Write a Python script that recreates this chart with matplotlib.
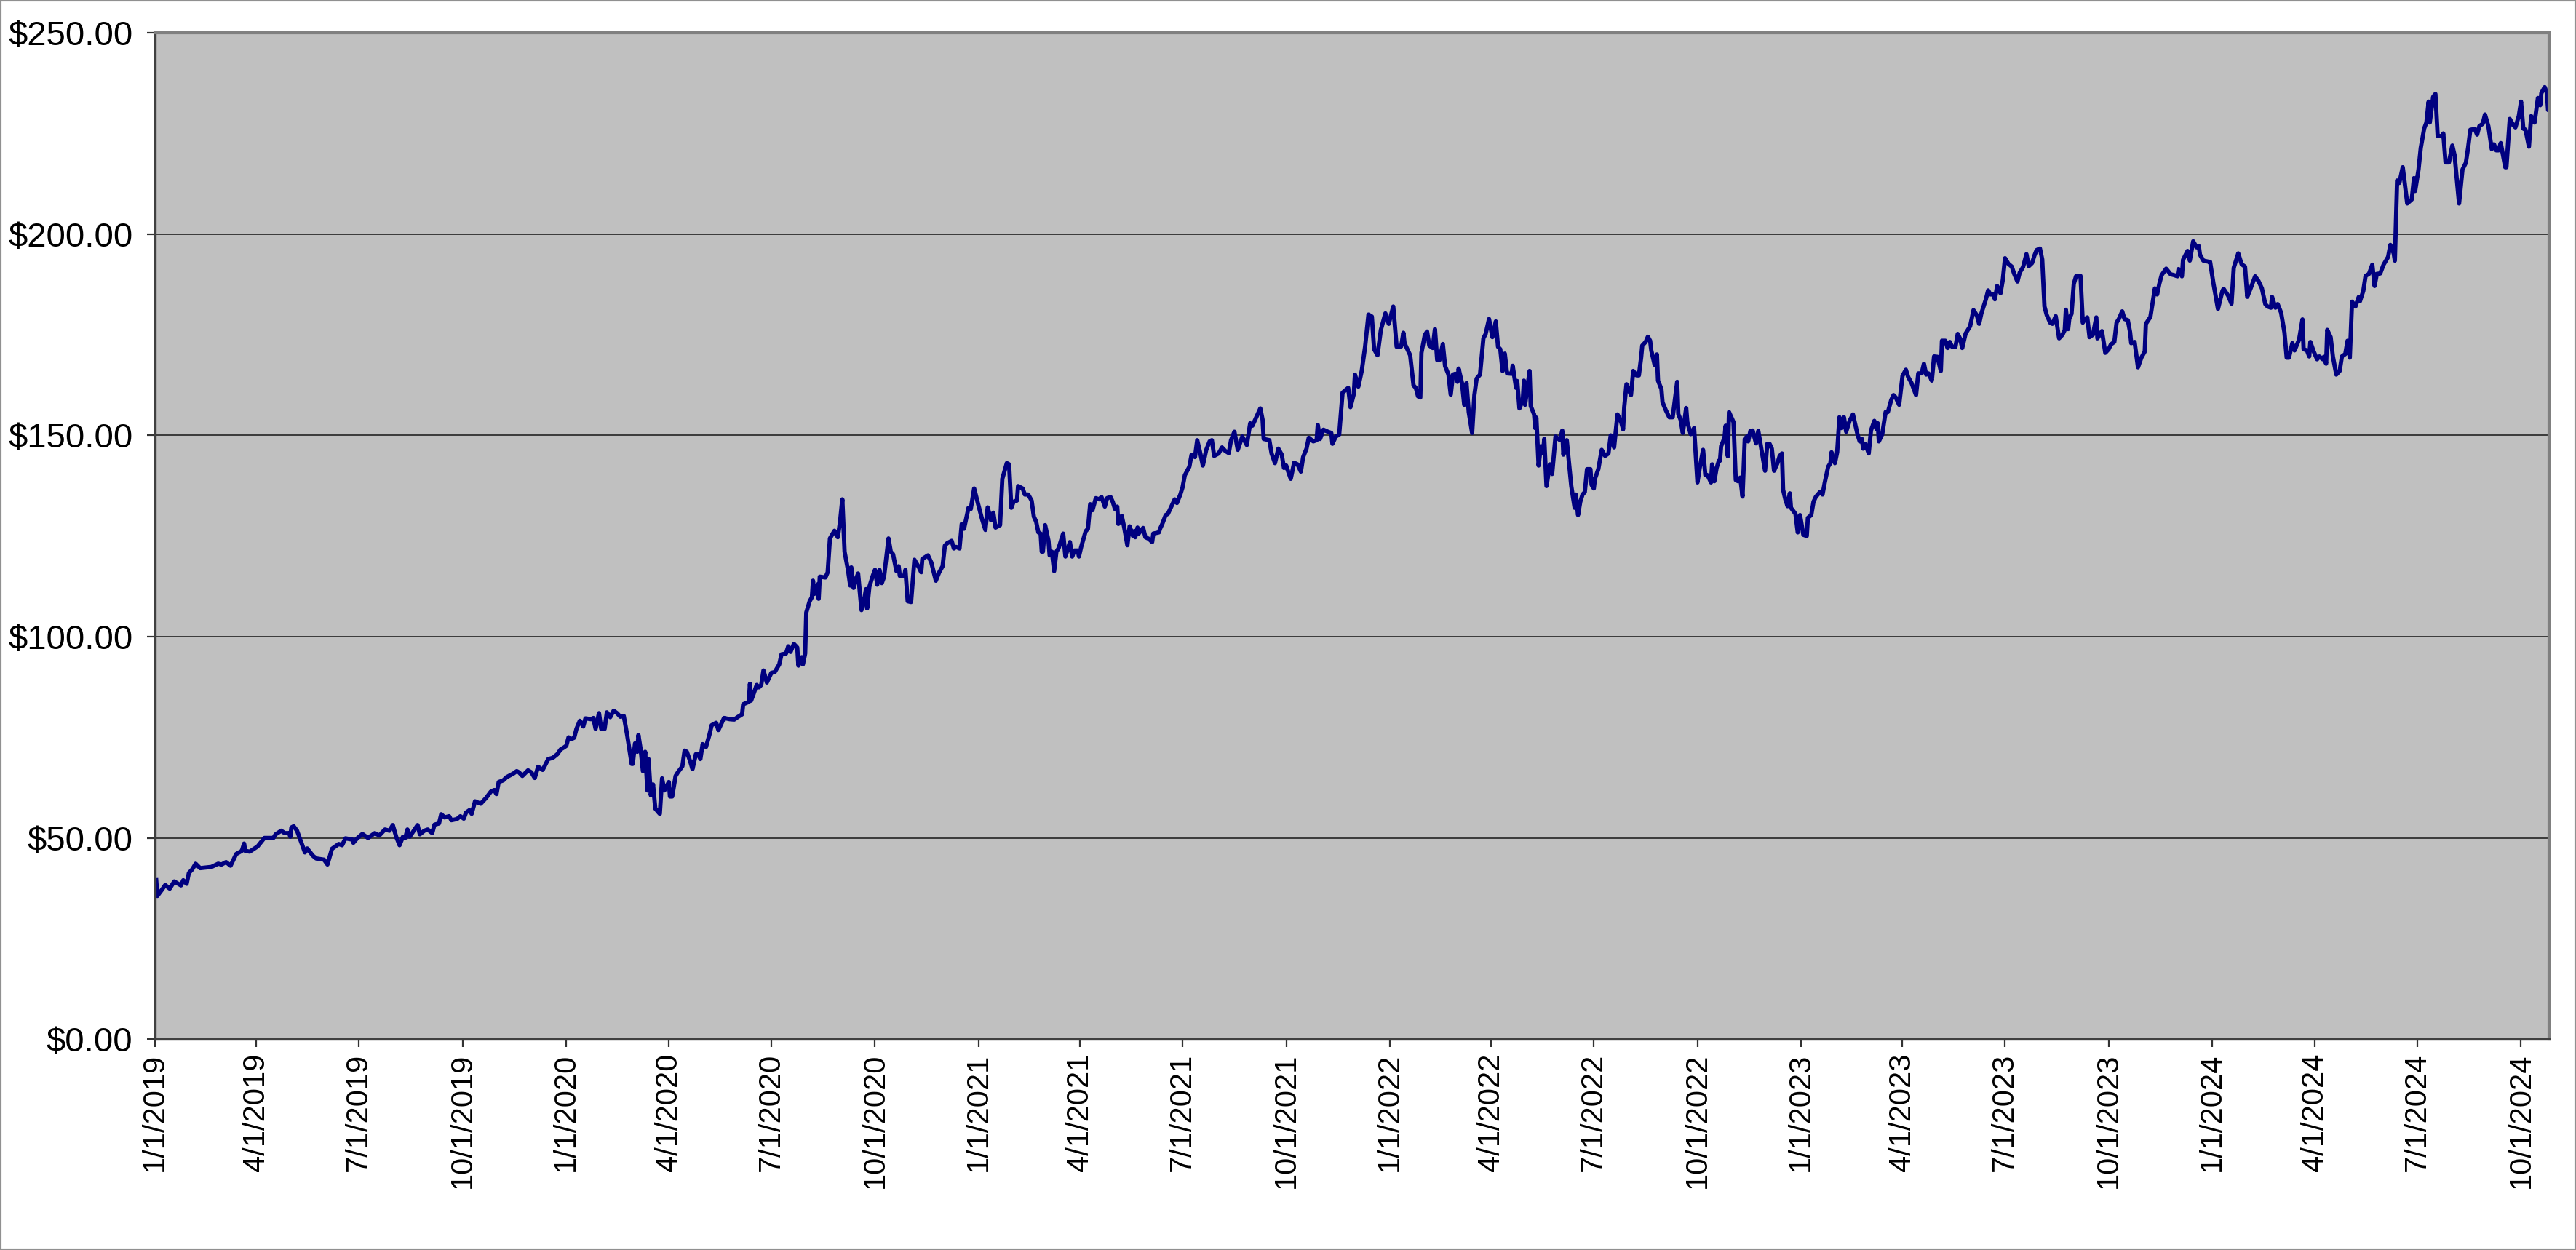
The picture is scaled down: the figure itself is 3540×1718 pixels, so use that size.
import matplotlib
matplotlib.use("Agg")
import matplotlib.pyplot as plt
import pandas as pd
from matplotlib.patches import Rectangle

# days since 1/1/2019 and closing price
days = [
    1, 2, 6, 9, 13, 17, 23, 25, 28, 30, 33, 36, 40, 50, 56, 59, 63, 67, 72, 77,
    79, 80, 84, 91, 97, 105, 107, 112, 115, 119, 120, 121, 123, 126, 133, 135, 140, 143, 150, 153,
    157, 163, 166, 169, 175, 176, 179, 184,
    189, 195, 199, 204, 208, 211, 214, 217, 220, 222, 224, 226, 233, 235, 239, 242, 246, 248, 252, 254,
    257, 261, 263, 268, 271, 274, 276, 279, 281, 284, 289, 294, 298, 301, 303, 305, 309, 312, 318, 321,
    323, 326, 331, 334, 337, 340, 344, 349, 353,
    357, 360, 363, 365, 367, 369, 372, 374, 377, 380, 382, 387, 389, 391, 394, 396, 399, 401, 404, 407,
    410, 413, 416, 419, 421, 423, 424, 426, 428, 429, 431, 433, 435, 437, 438, 440, 442, 444, 447, 448,
    450, 452, 456, 457, 459, 462, 464, 468, 470, 472, 475, 477, 480, 482, 484, 486, 489, 492, 494, 498,
    500, 505, 510, 514, 517, 521, 522, 527, 528, 529, 531, 534, 536,
    538, 540, 543, 547, 550, 554, 556, 560, 562, 564, 567, 570, 571, 574, 575, 577, 578, 581, 583, 584,
    585, 588, 589, 590, 595, 597, 599, 603, 606, 608, 610, 612, 615, 617, 618, 620, 622, 624, 627, 629,
    631, 632, 634, 637, 639, 641, 643, 645, 647, 651, 653, 655, 658, 660, 661, 665, 666, 668, 671, 674,
    678, 680, 681, 686, 689, 693, 696, 699, 701, 703, 707, 709, 711, 714, 716,
    718, 722, 724, 727, 730, 734, 737, 739, 742, 744, 746, 750, 752, 756, 758, 760, 762, 765, 766, 770,
    772, 775, 778, 780, 782, 784, 786, 787, 788, 790, 793, 794, 796, 798, 800, 802, 806, 808, 812, 814,
    816, 819, 820, 822, 826, 828, 830, 832, 835, 838, 840, 843, 845, 848, 850, 852, 854, 855, 858, 860,
    863, 865, 868, 869, 870, 872, 873, 877, 879, 882, 885, 886, 891, 892, 894, 897,
    899, 902, 905, 907, 910, 912, 914, 918, 920, 923, 925, 928, 930, 933, 936, 938, 940, 944, 947, 950,
    953, 955, 958, 961, 965, 969, 972, 974, 981, 983, 984, 989, 991, 994, 997, 1000, 1002, 1004, 1005, 1008,
    1011, 1014, 1017, 1019, 1022, 1024, 1028, 1031, 1032, 1034, 1037, 1041, 1044, 1045, 1048, 1051, 1054, 1059, 1061, 1064,
    1065, 1068, 1071, 1074, 1077,
    1080, 1082, 1085, 1088, 1092, 1095, 1099, 1102, 1106, 1108, 1109, 1111, 1114, 1117, 1119, 1121, 1123, 1124, 1127, 1129,
    1131, 1134, 1136, 1138, 1140, 1143, 1145, 1148, 1150, 1152, 1154, 1156, 1157, 1160, 1162, 1164, 1166, 1169, 1171, 1173,
    1176, 1179, 1181, 1184, 1187, 1190, 1192, 1194, 1196, 1198, 1200, 1204, 1205, 1208, 1209, 1211, 1214, 1215, 1216, 1220,
    1221, 1224, 1225, 1226, 1228, 1230, 1232, 1233, 1235, 1238, 1240, 1243, 1247, 1249, 1250, 1253, 1257, 1260,
    1261, 1263, 1265, 1267, 1269, 1271, 1274, 1275, 1277, 1278, 1281, 1284, 1287, 1290, 1292, 1295, 1298, 1301, 1303, 1304,
    1306, 1310, 1312, 1315, 1317, 1319, 1320, 1323, 1325, 1327, 1328, 1331, 1333, 1334, 1337, 1338, 1341, 1344, 1347, 1351,
    1352, 1354, 1356, 1359, 1360, 1363, 1366, 1369, 1371, 1374, 1376, 1378, 1381, 1382, 1384, 1386, 1388, 1389, 1390, 1393,
    1394, 1396, 1397, 1401, 1403, 1405, 1407, 1409, 1411, 1413, 1414, 1416, 1418, 1421, 1423, 1426, 1429, 1431, 1433, 1435,
    1437, 1440,
    1442, 1444, 1445, 1447, 1449, 1451, 1452, 1456, 1458, 1460, 1463, 1466, 1467, 1470, 1472, 1474, 1478, 1480, 1482, 1485,
    1487, 1488, 1491, 1493, 1495, 1497, 1499, 1501, 1504, 1507, 1511, 1513, 1515, 1516, 1518, 1521, 1523, 1526, 1528, 1529,
    1530, 1533, 1536, 1538, 1541, 1543, 1545, 1548, 1551, 1554, 1556, 1559, 1563, 1565, 1568, 1570, 1572, 1574, 1577, 1579,
    1582, 1585, 1586, 1589, 1591, 1593, 1595, 1598, 1600, 1602, 1604, 1607, 1611, 1614, 1617, 1619, 1621,
    1625, 1627, 1629, 1632, 1633, 1635, 1638, 1640, 1642, 1645, 1648, 1650, 1653, 1655, 1658, 1661, 1663, 1666, 1668, 1670,
    1673, 1675, 1677, 1679, 1682, 1684, 1687, 1688, 1690, 1693, 1695, 1696, 1698, 1699, 1701, 1703, 1705, 1709, 1711, 1713,
    1715, 1717, 1720, 1723, 1724, 1728, 1731, 1734, 1736, 1739, 1741, 1743, 1746, 1748, 1751, 1753, 1754, 1757, 1760, 1763,
    1766, 1767, 1771, 1773, 1775, 1777, 1779, 1781, 1785, 1789, 1792, 1795, 1796, 1799, 1800,
    1804, 1806, 1809, 1812, 1814, 1815, 1818, 1823, 1824, 1827, 1831, 1835, 1836, 1840, 1843, 1845, 1849, 1852, 1855, 1857,
    1860, 1864, 1867, 1870, 1873, 1875, 1878, 1879, 1882, 1884, 1887, 1890, 1892, 1894, 1897, 1899, 1903, 1906, 1907, 1910,
    1912, 1913, 1916, 1919, 1921, 1924, 1925, 1927, 1928, 1931, 1933, 1936, 1939, 1941, 1944, 1946, 1948, 1950, 1953, 1956,
    1957, 1960, 1962, 1965, 1968, 1970, 1972, 1975, 1978, 1982,
    1984, 1987, 1988, 1990, 1992, 1995, 1999, 2003, 2005, 2006, 2009, 2011, 2014, 2016, 2018, 2019, 2022, 2024, 2026, 2030,
    2031, 2033, 2036, 2039, 2041, 2045, 2048, 2051, 2053, 2055, 2059, 2061, 2063, 2066, 2068, 2071, 2074, 2076, 2078, 2080,
    2082, 2086, 2087, 2090, 2093, 2095, 2098, 2100, 2102, 2104, 2107, 2109, 2112, 2115, 2117, 2118, 2121, 2123, 2124, 2125,
]
prices = [
    39.5, 35.6, 37.1, 38.3, 37.4, 39.2, 38.2, 39.5, 38.6, 41.3, 42.2, 43.6, 42.5, 42.8, 43.6, 43.4, 44.0, 43.1, 46.0, 46.8,
    48.6, 46.8, 46.6, 47.9, 50.0, 50.0, 50.9, 51.8, 51.2, 51.2, 50.3, 52.6, 52.9, 51.8, 46.4, 47.4, 45.6, 44.9, 44.6, 43.4,
    47.3, 48.5, 48.2, 49.9, 49.6, 48.8, 49.8, 51.0,
    50.0, 51.2, 50.6, 52.1, 51.8, 53.2, 50.3, 48.2, 50.3, 50.0, 52.1, 50.3, 53.2, 50.9, 51.8, 52.1, 51.2, 53.3, 53.6, 55.9,
    55.1, 55.4, 54.4, 54.7, 55.4, 54.8, 56.3, 56.9, 56.0, 59.1, 58.5, 60.0, 61.5, 61.9, 60.9, 63.9, 64.3, 65.1, 66.0, 66.6,
    66.3, 65.4, 66.8, 66.3, 64.9, 67.7, 66.9, 69.6, 69.9,
    70.8, 72.0, 72.5, 72.9, 75.0, 74.5, 74.9, 77.1, 79.1, 77.7, 79.7, 79.5, 79.8, 77.1, 81.0, 77.1, 77.1, 81.2, 80.0, 81.6,
    81.0, 80.1, 80.3, 75.6, 72.0, 68.4, 68.4, 73.5, 71.4, 75.6, 72.0, 66.6, 71.4, 61.8, 69.6, 60.6, 63.3, 57.3, 56.3, 56.0,
    64.8, 61.8, 63.9, 60.3, 60.3, 65.4, 66.3, 67.8, 71.7, 71.4, 69.0, 67.1, 70.8, 70.8, 69.6, 73.3, 72.6, 75.6, 78.0, 78.6,
    76.8, 79.8, 79.5, 79.4, 80.0, 80.7, 83.2, 83.8, 88.3, 84.1, 85.6, 88.0, 87.4,
    88.0, 91.6, 88.6, 91.0, 91.2, 93.1, 95.6, 95.8, 97.6, 96.2, 98.2, 97.3, 92.8, 94.9, 93.1, 95.8, 106.0, 108.8, 109.8, 113.9,
    110.6, 113.0, 109.4, 114.9, 114.7, 116.0, 124.4, 126.3, 124.7, 128.6, 134.1, 121.1, 116.6, 112.7, 117.2, 112.1, 114.2, 115.7, 106.6, 108.5,
    111.8, 107.0, 112.4, 115.1, 116.6, 112.9, 116.6, 113.3, 114.8, 124.4, 121.1, 120.5, 116.3, 117.5, 115.1, 115.1, 116.6, 108.8, 108.6, 119.1,
    117.2, 116.0, 119.3, 120.2, 118.4, 113.9, 116.0, 117.5, 122.6, 123.2, 123.8, 121.9, 122.3, 121.9, 128.0,
    126.8, 132.0, 131.7, 136.8, 133.5, 129.2, 126.5, 132.1, 128.9, 130.8, 127.1, 127.7, 139.2, 143.1, 142.8, 132.0, 133.5, 133.8, 137.4, 136.8,
    135.3, 135.3, 133.8, 129.8, 128.6, 125.9, 125.6, 121.1, 121.1, 127.7, 123.8, 120.2, 121.1, 116.3, 121.1, 122.0, 125.6, 119.9, 123.5, 119.9,
    121.4, 121.4, 119.9, 122.3, 126.2, 126.8, 132.9, 131.4, 134.4, 134.1, 134.7, 132.3, 134.4, 134.7, 133.5, 131.7, 132.3, 128.0, 130.0, 127.4,
    122.7, 127.4, 125.0, 126.2, 124.7, 127.1, 125.6, 127.0, 124.7, 124.3, 123.5, 125.6, 125.9, 126.8, 128.0, 130.2,
    130.5, 132.3, 134.1, 133.2, 135.3, 137.1, 140.1, 142.2, 145.2, 144.6, 148.8, 145.2, 142.5, 146.4, 148.5, 148.8, 144.9, 145.5, 147.0, 146.1,
    145.6, 148.8, 150.9, 146.4, 149.7, 147.6, 153.0, 152.4, 156.7, 153.9, 149.1, 148.8, 145.5, 143.1, 146.7, 145.2, 141.9, 142.5, 141.6, 139.2,
    143.2, 142.8, 141.0, 144.6, 146.7, 149.4, 148.5, 148.8, 152.6, 149.1, 151.4, 150.9, 150.6, 147.9, 149.7, 150.2, 160.6, 161.8, 157.0, 160.3,
    165.1, 162.1, 166.0, 172.0, 180.0,
    179.5, 171.4, 169.9, 176.2, 180.3, 177.7, 182.0, 172.0, 172.1, 175.5, 172.9, 171.7, 169.9, 162.4, 161.8, 159.7, 159.4, 170.5, 174.9, 175.8,
    172.3, 171.7, 176.4, 168.7, 168.7, 172.7, 167.2, 165.1, 160.1, 165.1, 165.3, 163.3, 166.6, 163.0, 157.6, 163.0, 155.8, 150.6, 160.0, 164.1,
    165.1, 174.1, 175.2, 178.9, 174.4, 178.3, 172.0, 171.4, 166.0, 170.3, 165.4, 165.3, 167.3, 161.8, 163.5, 156.7, 158.8, 163.6, 157.6, 166.0,
    157.3, 155.2, 151.8, 154.4, 142.5, 147.3, 145.5, 149.1, 137.4, 142.8, 140.4, 149.7, 148.8, 151.2, 145.2, 148.8, 137.4, 132.0,
    135.3, 130.2, 133.5, 135.3, 135.9, 141.6, 141.6, 137.7, 136.8, 139.2, 141.6, 146.4, 144.9, 145.5, 150.0, 147.0, 155.2, 153.6, 151.5, 157.0,
    162.7, 160.0, 166.0, 164.9, 164.9, 169.3, 172.3, 173.2, 174.5, 173.5, 171.1, 167.5, 170.1, 163.6, 161.5, 158.2, 156.2, 154.5, 154.5, 163.3,
    155.3, 153.9, 150.6, 156.8, 153.3, 150.3, 151.8, 138.3, 141.9, 146.4, 140.1, 140.1, 138.3, 142.8, 138.6, 141.9, 143.7, 143.7, 147.3, 149.4,
    152.4, 144.8, 155.8, 153.3, 138.9, 138.6, 139.5, 134.8, 149.1, 149.7, 148.5, 151.1, 151.2, 148.0, 151.1, 146.1, 141.2, 147.9, 147.9, 146.7,
    141.2, 143.1,
    144.9, 145.5, 136.5, 134.1, 132.4, 135.6, 132.0, 130.5, 125.9, 130.2, 125.3, 125.0, 129.5, 130.2, 133.5, 134.7, 136.0, 135.3, 138.3, 142.2,
    143.1, 145.8, 143.1, 145.8, 154.5, 151.8, 154.5, 150.9, 153.6, 155.2, 150.3, 148.5, 149.1, 146.7, 147.9, 145.5, 151.2, 153.6, 151.5, 153.0,
    148.5, 150.3, 155.8, 155.8, 158.8, 160.0, 159.4, 157.6, 164.8, 166.3, 164.5, 163.0, 160.0, 165.4, 165.4, 167.8, 165.1, 165.4, 163.6, 169.6,
    169.5, 166.0, 173.5, 173.5, 171.7, 173.2, 172.0, 172.0, 175.2, 174.1, 171.7, 175.3, 177.1, 181.1, 179.8, 177.7, 180.3,
    183.8, 186.0, 185.0, 185.0, 183.8, 187.1, 185.3, 188.6, 194.0, 192.6, 191.9, 190.2, 188.2, 190.4, 191.8, 195.0, 192.0, 192.8, 194.6, 196.0,
    196.4, 193.7, 182.0, 179.9, 178.0, 177.7, 179.6, 177.7, 174.1, 175.0, 176.2, 181.2, 176.4, 178.9, 180.2, 187.6, 189.5, 189.6, 178.0, 178.9,
    179.3, 174.4, 175.0, 179.3, 174.1, 175.9, 170.5, 171.4, 172.6, 173.2, 178.0, 178.9, 180.8, 178.9, 178.6, 175.6, 172.9, 173.2, 166.9, 169.3,
    170.8, 177.7, 179.4, 182.9, 186.5, 185.0, 187.7, 189.8, 191.4, 190.0, 189.8, 189.5, 191.3, 189.5, 193.6,
    195.8, 193.4, 198.2, 196.7, 197.0, 194.9, 193.4, 193.1, 193.1, 187.7, 181.4, 185.9, 186.4, 184.7, 182.7, 191.6, 195.2, 192.5, 191.9, 184.4,
    186.5, 189.5, 188.3, 186.5, 182.6, 182.0, 181.7, 184.4, 181.7, 182.6, 180.5, 175.6, 169.3, 169.3, 172.9, 171.1, 173.8, 178.8, 171.4, 171.1,
    169.6, 173.2, 170.8, 168.9, 169.6, 168.9, 169.5, 167.8, 176.2, 174.4, 169.6, 165.1, 166.0, 169.6, 170.2, 173.5, 169.3, 183.2, 182.0, 184.4,
    183.3, 185.9, 189.6, 190.1, 192.4, 187.1, 190.1, 190.2, 192.4, 194.3,
    197.3, 195.2, 193.4, 213.3, 212.7, 216.6, 207.6, 208.6, 213.9, 210.7, 216.0, 221.4, 226.2, 227.7, 232.9, 227.7, 234.1, 234.8, 224.4, 224.3,
    225.0, 217.8, 217.8, 222.0, 219.6, 207.6, 216.0, 217.7, 221.4, 225.9, 226.1, 224.7, 226.8, 227.4, 229.7, 226.8, 221.1, 222.3, 220.8, 220.8,
    222.6, 216.6, 216.6, 228.6, 227.1, 226.5, 229.3, 232.9, 226.2, 225.9, 221.7, 229.3, 227.7, 233.8, 232.0, 235.0, 236.5, 235.0, 230.8, 231.3,
]

start = pd.Timestamp("2019-01-01")
dates = start + pd.to_timedelta(days, unit="D")
tick_dates = pd.date_range("2019-01-01", "2024-10-01", freq="QS")
y_ticks = [0, 50, 100, 150, 200, 250]

plt.rcParams["font.family"] = ["Liberation Sans", "DejaVu Sans"]

fig = plt.figure(figsize=(35.4, 17.18), dpi=100)
ax = fig.add_axes([0.0602, 0.1686, 0.9294, 0.8052])
ax.set_facecolor("#c0c0c0")

ax.plot(dates, prices, color="#000080", lw=4.2, solid_joinstyle="round")

ax.set_xlim(start, dates[-1])
ax.set_ylim(0, 250)
ax.set_yticks(y_ticks)
ax.set_yticklabels([f"${v:,.2f}" for v in y_ticks])
ax.set_xticks(tick_dates)
ax.set_xticklabels([f"{d.month}/{d.day}/{d.year}" for d in tick_dates], rotation=90)
ax.grid(axis="y", color="#3a3a3a", lw=1.4)
ax.set_axisbelow(True)

ax.tick_params(axis="both", length=8, width=1.6, color="#333333")
ax.tick_params(axis="x", labelsize=30, pad=6)
ax.tick_params(axis="y", labelsize=34, pad=14)

for side in ["left", "bottom"]:
    ax.spines[side].set_color("#404040")
    ax.spines[side].set_linewidth(2.4)
for side in ["top", "right"]:
    ax.spines[side].set_color("#808080")
    ax.spines[side].set_linewidth(3)

fig.add_artist(Rectangle((0, 0), 1, 1, transform=fig.transFigure, fill=False,
                         edgecolor="#909090", lw=3))

fig.savefig("out.png", dpi=100)
